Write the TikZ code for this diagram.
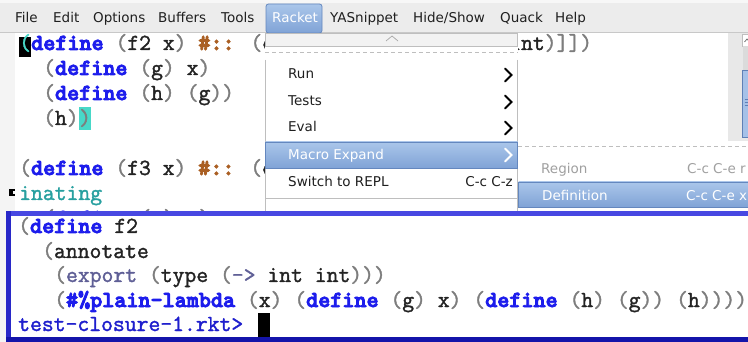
\documentclass[tikz,border=0pt]{standalone}
\usepackage{fontspec}
\newfontfamily\uifont{DejaVu Sans}

% editor palette
\definecolor{menubar}{RGB}{236,236,236}
\definecolor{menuline}{RGB}{200,200,200}
\definecolor{fringe}{RGB}{244,244,244}
\definecolor{kw}{RGB}{28,28,236}
\definecolor{paren}{RGB}{125,125,125}
\definecolor{ink}{RGB}{35,35,35}
\definecolor{hashc}{RGB}{170,95,35}
\definecolor{tealc}{RGB}{40,160,160}
\definecolor{showparen}{RGB}{72,216,200}
\definecolor{exportc}{RGB}{95,95,150}
\definecolor{prompt}{RGB}{30,30,205}
\definecolor{hiTop}{RGB}{170,198,234}
\definecolor{hiBot}{RGB}{128,163,214}
\definecolor{hiEdge}{RGB}{100,135,190}
\definecolor{menuEdge}{RGB}{190,190,190}
\definecolor{dimtext}{RGB}{160,160,160}
\definecolor{replTop}{RGB}{72,72,226}
\definecolor{replSide}{RGB}{40,40,200}
\definecolor{replBot}{RGB}{20,20,170}
\definecolor{trough}{RGB}{232,232,232}
\definecolor{thumb}{RGB}{165,193,232}
\definecolor{thumbEdge}{RGB}{95,128,182}

% glyphs drawn with fill+stroke to thicken the typewriter face
\newcommand\thick[2]{\special{pdf:literal direct 2 Tr #1 w}#2\special{pdf:literal direct 0 Tr}}
\newcommand\pa[1]{\textcolor{paren}{#1}}
\newcommand\kw[1]{\textcolor{kw}{\bfseries\thick{0.9}{#1}}}
\newcommand\hs[1]{\textcolor{hashc}{\bfseries\thick{0.9}{#1}}}
\newcommand\cd[1]{\thick{0.35}{#1}}

\tikzset{
  code/.style={anchor=base west, inner sep=0pt, text=ink,
    font=\ttfamily\fontsize{23}{25}\selectfont},
  ui/.style={anchor=base west, inner sep=0pt, text=black!88,
    font=\uifont\fontsize{13.5}{16}\selectfont},
  uir/.style={ui, anchor=base east},
  chev/.style={line width=2pt, line cap=round, line join=miter},
  hiband/.style={top color=hiTop, bottom color=hiBot, draw=hiEdge, line width=0.8pt},
}

\begin{document}
\begin{tikzpicture}[x=1pt,y=-1pt]
\useasboundingbox (0,0) rectangle (748,342);
\clip (0,0) rectangle (748,342);

% window background and menu bar
\fill[white] (0,0) rectangle (748,342);
\fill[menubar] (0,3) rectangle (748,32);
\fill[black!3] (0,0) rectangle (748,3);
\draw[menuline] (0,32) -- (748,32);
\fill[fringe] (0,33) rectangle (15,342);

\shade[hiband, rounded corners=2.5pt] (266,4) rectangle (322,33);

\node[ui] (mFile) at (15,23) {File};
\node[ui] (mEdit) at (53,23) {Edit};
\node[ui] (mOptions) at (93,23) {Options};
\node[ui] (mBuffers) at (158,23) {Buffers};
\node[ui] (mTools) at (221,23) {Tools};
\node[ui, text=white] (mRacket) at (272,23) {Racket};
\node[ui] (mYas) at (330,23) {YASnippet};
\node[ui] (mHide) at (413,23) {Hide/Show};
\node[ui] (mQuack) at (500,23) {Quack};
\node[ui] (mHelp) at (555,23) {Help};

% source buffer
\fill[black] (19,37) rectangle (31,57);
\node[code, text=showparen] (cur1) at (19,50) {\cd{(}};
\node[code] (l1) at (31,50) {\kw{define} \cd{\pa{(}f2 x\pa{)}} \hs{\#::} \cd{\pa{(}e}};
\node[code] (l1b) at (509,50) {\cd{int\pa{)]])}}};
\node[code] (l2) at (43,75) {\cd{\pa{(}}\kw{define} \cd{\pa{(}g\pa{)} x\pa{)}}};
\node[code] (l3) at (43,100) {\cd{\pa{(}}\kw{define} \cd{\pa{(}h\pa{)} \pa{(}g\pa{))}}};
\node[code] (l4) at (43,125) {\cd{\pa{(}h\pa{)}}};
\fill[showparen] (79,107) rectangle (91,130);
\node[code] (l4b) at (79,125) {\cd{\pa{)}}};
\node[code] (l5) at (19,175) {\cd{\pa{(}}\kw{define} \cd{\pa{(}f3 x\pa{)}} \hs{\#::} \cd{\pa{(}e}};
\node[code, text=tealc] (l6) at (19,200) {\cd{inating}};
\begin{scope}
  \clip (15,195) rectangle (265,211);
  \node[code] (l7) at (43,225) {\cd{\pa{(}}\kw{define} \cd{\pa{(}g\pa{)} x\pa{)}}};
\end{scope}
\fill[black] (9,189) rectangle (15,196);
\fill[fringe] (13,191) rectangle (15,194);

% vertical scroll bar
\fill[trough] (728,33) rectangle (748,141);
\draw[menuEdge, fill=white] (742.5,34) rectangle (752,46);
\draw[black!60, line width=0.7pt] (744.5,42) -- (747,39) -- (749.5,42);
\fill[black!14] (742.5,46) rectangle (752,70);
\draw[thumbEdge, fill=thumb] (742.5,70) rectangle (752,137);
\foreach \yy in {99,102,105} \draw[thumbEdge] (744.5,\yy) -- (749,\yy);

% Racket drop-down menu
\fill[white] (265,33) rectangle (518,211);
\draw[menuEdge, fill=black!5] (265.5,33) rectangle (517.5,46);
\draw[black!35, line width=0.7pt] (386,41) -- (392,36) -- (398,41);
\draw[menuEdge, dashed, dash pattern=on 4pt off 3pt] (265,52) -- (518,52);
\draw[menuEdge] (265.5,60) -- (265.5,211);
\draw[menuEdge] (517.5,60) -- (517.5,211);

\node[ui] (iRun) at (288,79) {Run};
\node[ui] (iTests) at (288,106) {Tests};
\node[ui] (iEval) at (288,132) {Eval};
\draw[chev] (505,68.5) -- (511.5,75) -- (505,81.5);
\draw[chev] (505,95.5) -- (511.5,102) -- (505,108.5);
\draw[chev] (505,121.5) -- (511.5,128) -- (505,134.5);

\shade[hiband] (265.5,142) rectangle (517.5,168);
\node[ui, text=white] (iMacro) at (288,160) {Macro Expand};
\draw[chev, white] (505,148.5) -- (511.5,155) -- (505,161.5);

\node[ui] (iRepl) at (288,187) {Switch to REPL};
\node[uir] (kRepl) at (513,187) {C-c C-z};
\draw[menuEdge] (265.5,198) -- (517.5,198);

% Macro Expand submenu
\fill[white] (518,146) rectangle (748,211);
\draw[menuEdge, dashed, dash pattern=on 4pt off 3pt] (518,146) -- (748,146);
\node[ui, text=dimtext] (sRegion) at (541,174) {Region};
\node[ui, text=dimtext] (kRegion) at (687,174) {C-c C-e r};
\shade[hiband] (518.5,182) rectangle (752,207);
\node[ui, text=white] (sDef) at (542,201) {Definition};
\node[ui, text=white] (kDef) at (686,201) {C-c C-e x};

% REPL window
\fill[white] (6,211) rectangle (748,342);
\fill[replTop] (6,211) rectangle (748,216);
\fill[replSide] (6,211) rectangle (11,342);
\fill[replBot] (6,337) rectangle (748,342);

\node[code] (r1) at (18,233) {\cd{\pa{(}}\kw{define} \cd{f2}};
\node[code] (r2) at (42,258) {\cd{\pa{(}annotate}};
\node[code] (r3) at (54,282) {\cd{\pa{(}\textcolor{exportc}{export} \pa{(}type \pa{(}\textcolor{exportc}{->} int int\pa{)))}}};
\node[code] (r4) at (54,307) {\cd{\pa{(}}\kw{\#\%plain-lambda} \cd{\pa{(}x\pa{)} \pa{(}}\kw{define} \cd{\pa{(}g\pa{)} x\pa{)} \pa{(}}\kw{define} \cd{\pa{(}h\pa{)} \pa{(}g\pa{))} \pa{(}h\pa{))))}}};
\node[code, text=prompt] (r5) at (18,331) {\cd{test-closure-1.rkt>}};
\fill[black] (258,313) rectangle (270,337);
\end{tikzpicture}
\end{document}
